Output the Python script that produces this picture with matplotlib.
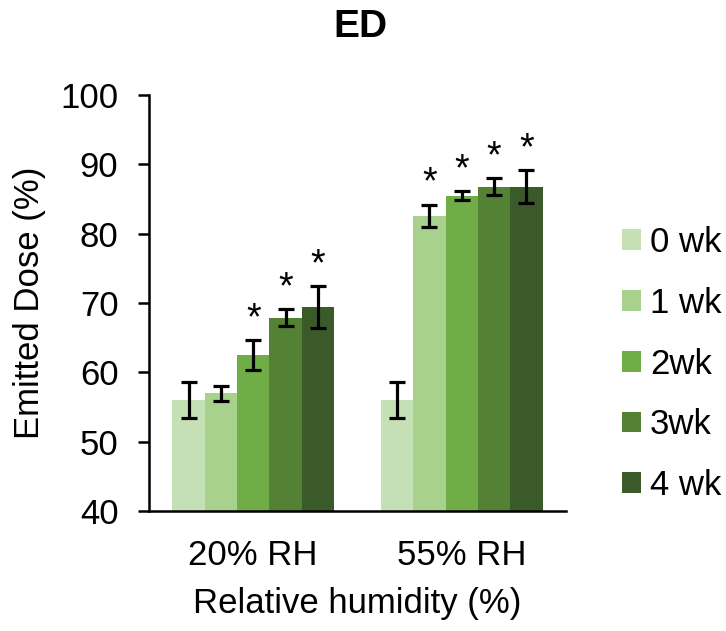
import matplotlib
matplotlib.use("Agg")
import matplotlib.pyplot as plt
import numpy as np

plt.rcParams['font.family'] = ['Liberation Sans', 'DejaVu Sans']

categories = ["20% RH", "55% RH"]
series = ["0 wk", "1 wk", "2wk", "3wk", "4 wk"]
values = {
    "0 wk": [56.0, 56.0],
    "1 wk": [57.0, 82.6],
    "2wk": [62.5, 85.5],
    "3wk": [67.9, 86.8],
    "4 wk": [69.4, 86.8],
}
errors = {
    "0 wk": [2.6, 2.6],
    "1 wk": [1.1, 1.6],
    "2wk": [2.1, 0.7],
    "3wk": [1.2, 1.2],
    "4 wk": [3.0, 2.4],
}
significant = {
    "0 wk": [False, False],
    "1 wk": [False, True],
    "2wk": [True, True],
    "3wk": [True, True],
    "4 wk": [True, True],
}
colors = ["#c5e0b4", "#a9d18e", "#70ad47", "#548235", "#3b5a2a"]

fig = plt.figure(figsize=(7.26, 6.31), dpi=100)
ax = fig.add_axes([149/726, 1-511/631, (566-149)/726, (511-95)/631])

centers = np.array([0.5, 1.5])
bw = 0.155
n = len(series)
for i, s in enumerate(series):
    xs = centers + (i - (n-1)/2) * bw
    ax.bar(xs, values[s], width=bw, color=colors[i], label=s, bottom=0, zorder=2)
    ax.errorbar(xs, values[s], yerr=errors[s], fmt='none', ecolor='black',
                elinewidth=2.3, capsize=6, capthick=2.3, zorder=3)
    for x, v, e, sig in zip(xs, values[s], errors[s], significant[s]):
        if sig:
            ax.annotate('*', xy=(x, v + e), xytext=(0, 2), textcoords='offset points',
                        ha='center', va='bottom', fontsize=27)

ax.set_xlim(0, 2)
ax.set_ylim(40, 100)
ax.set_yticks([40, 50, 60, 70, 80, 90, 100])
ax.set_xticks(centers)
ax.set_xticklabels(categories)
ax.tick_params(axis='y', labelsize=25, length=8, width=1.8, direction='out', pad=14)
ax.tick_params(axis='x', labelsize=25, length=0, pad=20)
for side in ['top', 'right']:
    ax.spines[side].set_visible(False)
for side in ['left', 'bottom']:
    ax.spines[side].set_linewidth(1.8)
ax.set_ylabel('Emitted Dose (%)', fontsize=25, labelpad=10)
ax.set_xlabel('Relative humidity (%)', fontsize=25, labelpad=11)

fig.text(360/726, 1-27/631, 'ED', fontsize=28, fontweight='bold', ha='center', va='center')

leg = fig.legend(loc='center left', bbox_to_anchor=(622/726, 1-364/631), frameon=False,
                 fontsize=25, handlelength=0.55, handleheight=0.55, handletextpad=0.25,
                 labelspacing=0.8, borderaxespad=0, borderpad=0)

fig.savefig('out.png', dpi=100)
